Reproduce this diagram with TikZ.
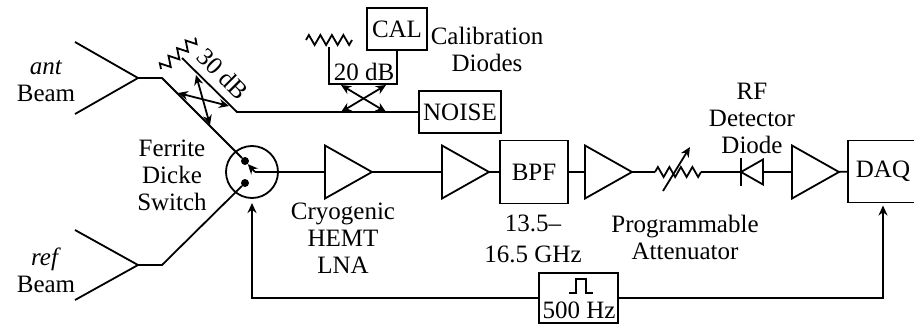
\documentclass[tikz,border=0pt]{standalone}
\usepackage{fontspec}
\setmainfont{Liberation Serif}
\usetikzlibrary{arrows.meta,positioning,shapes.geometric,decorations.pathmorphing}
\tikzset{
  lbl/.style={align=center,inner sep=0pt,font=\fontsize{25}{27}\selectfont},
  blk/.style={draw,line width=1.8pt,inner sep=0pt,outer sep=0pt,font=\fontsize{25}{27}\selectfont},
  amp/.style={draw,line width=1.8pt,isosceles triangle,isosceles triangle stretches,inner sep=0pt,outer sep=0pt,minimum width=53pt,minimum height=47pt},
  wire/.style={line width=1.8pt},
  ar/.style={wire,-{Stealth[length=10pt,width=9pt]}},
  dar/.style={wire,{Stealth[length=10pt,width=9pt]}-{Stealth[length=10pt,width=9pt]}},
  res/.style={wire,decorate,decoration={zigzag,segment length=11.5pt,amplitude=5pt}},
  dot/.style={circle,fill,inner sep=0pt,minimum size=8pt},
}
\begin{document}
\begin{tikzpicture}[x=1pt,y=-1pt]
\useasboundingbox (0,0) rectangle (914,324);
% ant and ref horns
\coordinate (anttop) at (75,42);
\coordinate (antbot) at (75,114);
\coordinate (antm) at (138,78);
\coordinate (antk) at (162,78);
\coordinate (reftop) at (75,230);
\coordinate (refbot) at (75,300);
\coordinate (refm) at (138,265);
\coordinate (refk) at (162,265);
\draw[wire] (anttop) -- (antm) -- (antbot);
\draw[wire] (reftop) -- (refm) -- (refbot);
\node[lbl] (antl) at (46,81) {\textit{ant}\\Beam};
\node[lbl] (refl) at (46,270) {\textit{ref}\\Beam};
% Dicke switch
\node[draw,circle,line width=1.8pt,minimum size=52pt,inner sep=0pt,outer sep=0pt] (sw) at (252,172) {};
\node[dot] (pa) at (245,161) {};
\node[dot] (pb) at (245,183) {};
\coordinate (po) at (255,172);
\draw[wire] (antm) -- (antk) -- (pa);
\draw[wire] (refm) -- (refk) -- (pb);
\draw[ar] (po) -- (pa);
\node[lbl] (swl) at (172,175) {Ferrite\\Dicke\\Switch};
% receiver chain
\node[amp,anchor=west] (a1) at (325,172) {};
\node[amp,right=70pt of a1] (a2) {};
\node[blk,minimum width=68pt,minimum height=63pt,right=11pt of a2] (bpf) {BPF};
\node[amp,right=17pt of bpf] (a3) {};
\coordinate[right=23pt of a3] (ra);
\coordinate[right=46pt of ra] (rb);
\node[draw,isosceles triangle,isosceles triangle stretches,shape border rotate=180,line width=1.8pt,inner sep=0pt,outer sep=0pt,minimum width=25pt,minimum height=22pt,anchor=apex] (det) at (741,172) {};
\coordinate (dtop) at (741,158);
\coordinate (dbot) at (741,186);
\node[amp,anchor=west] (a4) at (792,172) {};
\node[blk,minimum width=70pt,minimum height=62pt,anchor=west] (daq) at (848,171.5) {DAQ};
\draw[wire] (po) -- (a1);
\draw[wire] (a1) -- (a2);
\draw[wire] (a2) -- (bpf);
\draw[wire] (bpf) -- (a3);
\draw[wire] (a3) -- (ra);
\draw[res] (ra) -- (rb);
\draw[wire] (rb) -- (det.apex);
\draw[wire] (dtop) -- (dbot);
\draw[wire] (det.lower side) -- (a4);
\draw[wire] (a4) -- (daq);
\coordinate (vb) at (663,191);
\coordinate (vt) at (690,147);
\draw[ar] (vb) -- (vt);
\node[lbl] (lnal) at (343,238) {Cryogenic\\HEMT\\LNA};
\node[lbl] (bpfl) at (533,239) {13.5--\\[4pt]16.5 GHz};
\node[lbl] (attl) at (685,237) {Programmable\\Attenuator};
\node[lbl] (detl) at (752,118) {RF\\Detector\\Diode};
% coupler, noise and cal
\node[blk,minimum width=82pt,minimum height=42pt,anchor=west] (noise) at (419,112) {NOISE};
\coordinate (cpk) at (237,112);
\coordinate (cpe) at (182,58);
\coordinate (za) at (161,69);
\coordinate (zb) at (196,38);
\draw[wire] (noise) -- (cpk) -- (cpe);
\draw[res] (za) -- (zb);
\node[lbl,rotate=-45] (cpl) at (223,74) {30 dB};
\coordinate (c1a) at (196,75);
\coordinate (c1b) at (210,125);
\coordinate (c2a) at (178,93);
\coordinate (c2b) at (229,106);
\draw[dar] (c1a) -- (c1b);
\draw[dar] (c2a) -- (c2b);
\node[blk,minimum width=60pt,minimum height=42pt] (cal) at (397,29) {CAL};
\node[lbl] (call) at (487,49) {Calibration\\Diodes};
\coordinate (la) at (329,47);
\coordinate (lb) at (329,84);
\coordinate (lc) at (397,84);
\draw[wire] (la) -- (lb) -- (lc) -- (cal.south -| lc);
\coordinate (zc) at (306,40);
\coordinate (zd) at (352,40);
\draw[res] (zc) -- (zd);
\node[lbl] (tdb) at (364,72) {20 dB};
\coordinate (x1) at (341,85);
\coordinate (x2) at (386,112);
\coordinate (x3) at (386,85);
\coordinate (x4) at (341,112);
\draw[dar] (x1) -- (x2);
\draw[dar] (x3) -- (x4);
% blanking clock
\node[draw,line width=1.8pt,minimum width=79pt,minimum height=50pt,inner sep=0pt,outer sep=0pt] (clk) at (578.5,298) {};
\node[lbl] (clkl) at (579,310) {500 Hz};
\draw[wire] (569,293) -- (576,293) -- (576,279) -- (586,279) -- (586,293) -- (593,293);
\coordinate (cl) at (252,298);
\coordinate (cr) at (883,298);
\draw[ar,shorten >=5pt] (clk.west |- cl) -- (cl) -- (sw.south);
\draw[ar,shorten >=3pt] (clk.east |- cr) -- (cr) -- (cr |- daq.south);
\end{tikzpicture}
\end{document}
